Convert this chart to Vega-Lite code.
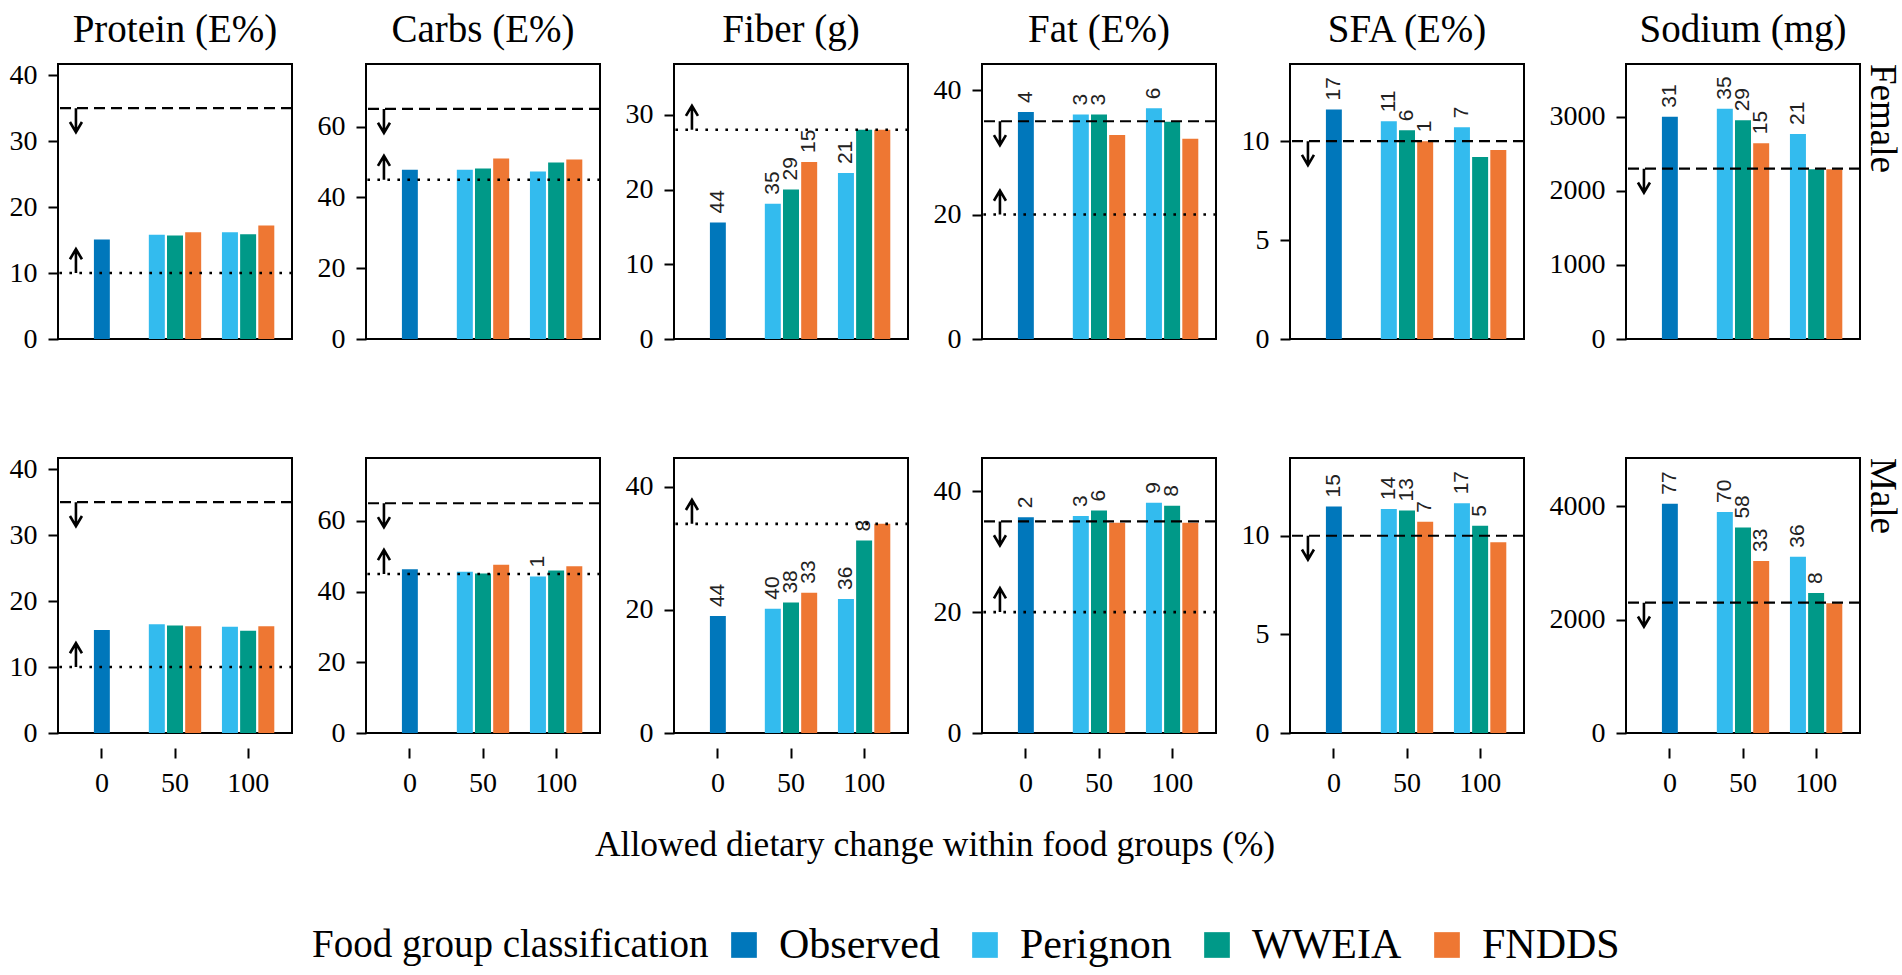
{
  "$schema": "https://vega.github.io/schema/vega-lite/v6.json",
  "background": "white",
  "padding": {"left": 8, "top": 11, "right": 4, "bottom": 6},
  "data": {"values": [
    {"sex":"Female","nutrient":"Protein (E%)","change":0,"cls":"Observed","value":15.1},
    {"sex":"Female","nutrient":"Protein (E%)","change":50,"cls":"Perignon","value":15.8},
    {"sex":"Female","nutrient":"Protein (E%)","change":50,"cls":"WWEIA","value":15.7},
    {"sex":"Female","nutrient":"Protein (E%)","change":50,"cls":"FNDDS","value":16.2},
    {"sex":"Female","nutrient":"Protein (E%)","change":100,"cls":"Perignon","value":16.2},
    {"sex":"Female","nutrient":"Protein (E%)","change":100,"cls":"WWEIA","value":15.9},
    {"sex":"Female","nutrient":"Protein (E%)","change":100,"cls":"FNDDS","value":17.2},
    {"sex":"Female","nutrient":"Carbs (E%)","change":0,"cls":"Observed","value":47.8},
    {"sex":"Female","nutrient":"Carbs (E%)","change":50,"cls":"Perignon","value":47.8},
    {"sex":"Female","nutrient":"Carbs (E%)","change":50,"cls":"WWEIA","value":48.2},
    {"sex":"Female","nutrient":"Carbs (E%)","change":50,"cls":"FNDDS","value":51.0},
    {"sex":"Female","nutrient":"Carbs (E%)","change":100,"cls":"Perignon","value":47.3},
    {"sex":"Female","nutrient":"Carbs (E%)","change":100,"cls":"WWEIA","value":49.9},
    {"sex":"Female","nutrient":"Carbs (E%)","change":100,"cls":"FNDDS","value":50.7},
    {"sex":"Female","nutrient":"Fiber (g)","change":0,"cls":"Observed","value":15.6,"label":"44"},
    {"sex":"Female","nutrient":"Fiber (g)","change":50,"cls":"Perignon","value":18.1,"label":"35"},
    {"sex":"Female","nutrient":"Fiber (g)","change":50,"cls":"WWEIA","value":20.0,"label":"29"},
    {"sex":"Female","nutrient":"Fiber (g)","change":50,"cls":"FNDDS","value":23.7,"label":"15"},
    {"sex":"Female","nutrient":"Fiber (g)","change":100,"cls":"Perignon","value":22.2,"label":"21"},
    {"sex":"Female","nutrient":"Fiber (g)","change":100,"cls":"WWEIA","value":28.0},
    {"sex":"Female","nutrient":"Fiber (g)","change":100,"cls":"FNDDS","value":28.0},
    {"sex":"Female","nutrient":"Fat (E%)","change":0,"cls":"Observed","value":36.5,"label":"4"},
    {"sex":"Female","nutrient":"Fat (E%)","change":50,"cls":"Perignon","value":36.1,"label":"3"},
    {"sex":"Female","nutrient":"Fat (E%)","change":50,"cls":"WWEIA","value":36.1,"label":"3"},
    {"sex":"Female","nutrient":"Fat (E%)","change":50,"cls":"FNDDS","value":32.8},
    {"sex":"Female","nutrient":"Fat (E%)","change":100,"cls":"Perignon","value":37.1,"label":"6"},
    {"sex":"Female","nutrient":"Fat (E%)","change":100,"cls":"WWEIA","value":34.9},
    {"sex":"Female","nutrient":"Fat (E%)","change":100,"cls":"FNDDS","value":32.2},
    {"sex":"Female","nutrient":"SFA (E%)","change":0,"cls":"Observed","value":11.6,"label":"17"},
    {"sex":"Female","nutrient":"SFA (E%)","change":50,"cls":"Perignon","value":11.0,"label":"11"},
    {"sex":"Female","nutrient":"SFA (E%)","change":50,"cls":"WWEIA","value":10.55,"label":"6"},
    {"sex":"Female","nutrient":"SFA (E%)","change":50,"cls":"FNDDS","value":10.0,"label":"1"},
    {"sex":"Female","nutrient":"SFA (E%)","change":100,"cls":"Perignon","value":10.7,"label":"7"},
    {"sex":"Female","nutrient":"SFA (E%)","change":100,"cls":"WWEIA","value":9.2},
    {"sex":"Female","nutrient":"SFA (E%)","change":100,"cls":"FNDDS","value":9.55},
    {"sex":"Female","nutrient":"Sodium (mg)","change":0,"cls":"Observed","value":3003,"label":"31"},
    {"sex":"Female","nutrient":"Sodium (mg)","change":50,"cls":"Perignon","value":3109,"label":"35"},
    {"sex":"Female","nutrient":"Sodium (mg)","change":50,"cls":"WWEIA","value":2953,"label":"29"},
    {"sex":"Female","nutrient":"Sodium (mg)","change":50,"cls":"FNDDS","value":2645,"label":"15"},
    {"sex":"Female","nutrient":"Sodium (mg)","change":100,"cls":"Perignon","value":2769,"label":"21"},
    {"sex":"Female","nutrient":"Sodium (mg)","change":100,"cls":"WWEIA","value":2293},
    {"sex":"Female","nutrient":"Sodium (mg)","change":100,"cls":"FNDDS","value":2293},
    {"sex":"Male","nutrient":"Protein (E%)","change":0,"cls":"Observed","value":15.6},
    {"sex":"Male","nutrient":"Protein (E%)","change":50,"cls":"Perignon","value":16.5},
    {"sex":"Male","nutrient":"Protein (E%)","change":50,"cls":"WWEIA","value":16.3},
    {"sex":"Male","nutrient":"Protein (E%)","change":50,"cls":"FNDDS","value":16.2},
    {"sex":"Male","nutrient":"Protein (E%)","change":100,"cls":"Perignon","value":16.1},
    {"sex":"Male","nutrient":"Protein (E%)","change":100,"cls":"WWEIA","value":15.5},
    {"sex":"Male","nutrient":"Protein (E%)","change":100,"cls":"FNDDS","value":16.2},
    {"sex":"Male","nutrient":"Carbs (E%)","change":0,"cls":"Observed","value":46.3},
    {"sex":"Male","nutrient":"Carbs (E%)","change":50,"cls":"Perignon","value":45.6},
    {"sex":"Male","nutrient":"Carbs (E%)","change":50,"cls":"WWEIA","value":45.1},
    {"sex":"Male","nutrient":"Carbs (E%)","change":50,"cls":"FNDDS","value":47.6},
    {"sex":"Male","nutrient":"Carbs (E%)","change":100,"cls":"Perignon","value":44.3,"label":"1"},
    {"sex":"Male","nutrient":"Carbs (E%)","change":100,"cls":"WWEIA","value":46.0},
    {"sex":"Male","nutrient":"Carbs (E%)","change":100,"cls":"FNDDS","value":47.2},
    {"sex":"Male","nutrient":"Fiber (g)","change":0,"cls":"Observed","value":19.0,"label":"44"},
    {"sex":"Male","nutrient":"Fiber (g)","change":50,"cls":"Perignon","value":20.2,"label":"40"},
    {"sex":"Male","nutrient":"Fiber (g)","change":50,"cls":"WWEIA","value":21.2,"label":"38"},
    {"sex":"Male","nutrient":"Fiber (g)","change":50,"cls":"FNDDS","value":22.8,"label":"33"},
    {"sex":"Male","nutrient":"Fiber (g)","change":100,"cls":"Perignon","value":21.8,"label":"36"},
    {"sex":"Male","nutrient":"Fiber (g)","change":100,"cls":"WWEIA","value":31.3,"label":"8"},
    {"sex":"Male","nutrient":"Fiber (g)","change":100,"cls":"FNDDS","value":34.0},
    {"sex":"Male","nutrient":"Fat (E%)","change":0,"cls":"Observed","value":35.7,"label":"2"},
    {"sex":"Male","nutrient":"Fat (E%)","change":50,"cls":"Perignon","value":35.9,"label":"3"},
    {"sex":"Male","nutrient":"Fat (E%)","change":50,"cls":"WWEIA","value":36.8,"label":"6"},
    {"sex":"Male","nutrient":"Fat (E%)","change":50,"cls":"FNDDS","value":34.8},
    {"sex":"Male","nutrient":"Fat (E%)","change":100,"cls":"Perignon","value":38.1,"label":"9"},
    {"sex":"Male","nutrient":"Fat (E%)","change":100,"cls":"WWEIA","value":37.6,"label":"8"},
    {"sex":"Male","nutrient":"Fat (E%)","change":100,"cls":"FNDDS","value":34.8},
    {"sex":"Male","nutrient":"SFA (E%)","change":0,"cls":"Observed","value":11.48,"label":"15"},
    {"sex":"Male","nutrient":"SFA (E%)","change":50,"cls":"Perignon","value":11.36,"label":"14"},
    {"sex":"Male","nutrient":"SFA (E%)","change":50,"cls":"WWEIA","value":11.28,"label":"13"},
    {"sex":"Male","nutrient":"SFA (E%)","change":50,"cls":"FNDDS","value":10.71,"label":"7"},
    {"sex":"Male","nutrient":"SFA (E%)","change":100,"cls":"Perignon","value":11.64,"label":"17"},
    {"sex":"Male","nutrient":"SFA (E%)","change":100,"cls":"WWEIA","value":10.5,"label":"5"},
    {"sex":"Male","nutrient":"SFA (E%)","change":100,"cls":"FNDDS","value":9.67},
    {"sex":"Male","nutrient":"Sodium (mg)","change":0,"cls":"Observed","value":4047,"label":"77"},
    {"sex":"Male","nutrient":"Sodium (mg)","change":50,"cls":"Perignon","value":3903,"label":"70"},
    {"sex":"Male","nutrient":"Sodium (mg)","change":50,"cls":"WWEIA","value":3626,"label":"58"},
    {"sex":"Male","nutrient":"Sodium (mg)","change":50,"cls":"FNDDS","value":3038,"label":"33"},
    {"sex":"Male","nutrient":"Sodium (mg)","change":100,"cls":"Perignon","value":3113,"label":"36"},
    {"sex":"Male","nutrient":"Sodium (mg)","change":100,"cls":"WWEIA","value":2473,"label":"8"},
    {"sex":"Male","nutrient":"Sodium (mg)","change":100,"cls":"FNDDS","value":2289},
    {"sex":"Female","nutrient":"Protein (E%)","upper":35,"lower":10,"ymax":41.7},
    {"sex":"Female","nutrient":"Carbs (E%)","upper":65,"lower":45,"ymax":77.7},
    {"sex":"Female","nutrient":"Fiber (g)","lower":28,"ymax":36.8},
    {"sex":"Female","nutrient":"Fat (E%)","upper":35,"lower":20,"ymax":44.2},
    {"sex":"Female","nutrient":"SFA (E%)","upper":10,"ymax":13.9},
    {"sex":"Female","nutrient":"Sodium (mg)","upper":2300,"ymax":3714},
    {"sex":"Male","nutrient":"Protein (E%)","upper":35,"lower":10,"ymax":41.7},
    {"sex":"Male","nutrient":"Carbs (E%)","upper":65,"lower":45,"ymax":77.8},
    {"sex":"Male","nutrient":"Fiber (g)","lower":34,"ymax":44.7},
    {"sex":"Male","nutrient":"Fat (E%)","upper":35,"lower":20,"ymax":45.5},
    {"sex":"Male","nutrient":"SFA (E%)","upper":10,"ymax":13.94},
    {"sex":"Male","nutrient":"Sodium (mg)","upper":2300,"ymax":4854}
  ]},
  "facet": {
    "row": {"field": "sex", "type": "nominal", "sort": ["Female", "Male"],
      "header": {"title": null, "labelOrient": "right", "labelAngle": 90, "labelAnchor": "start", "labelFont": "Liberation Serif", "labelFontSize": 37, "labelPadding": 0, "labelColor": "black"}},
    "column": {"field": "nutrient", "type": "nominal",
      "sort": ["Protein (E%)", "Carbs (E%)", "Fiber (g)", "Fat (E%)", "SFA (E%)", "Sodium (mg)"],
      "title": "Allowed dietary change within food groups (%)",
      "header": {"labelOrient": "top", "titleOrient": "bottom", "labelFont": "Liberation Serif", "labelFontSize": 39, "labelPadding": 10, "labelColor": "black",
        "titleFont": "Liberation Serif", "titleFontSize": 35.5, "titleFontWeight": "normal", "titlePadding": 21, "titleColor": "black"}}
  },
  "align": "each",
  "spacing": {"row": 100, "column": 21},
  "resolve": {"scale": {"y": "independent"}},
  "spec": {
    "width": 234,
    "height": 275,
    "layer": [
      {
        "transform": [{"filter": "datum.cls === 'Observed'"}],
        "mark": {"type": "bar", "width": {"band": 0.242}},
        "encoding": {
          "x": {"field": "change", "type": "ordinal", "scale": {"domain": [0, 50, 100], "paddingInner": 0.1, "paddingOuter": 0.15}, "axis": {"title": null, "labelAngle": 0}},
          "y": {"field": "value", "type": "quantitative", "scale": {"nice": false, "zero": true}, "axis": {"title": null, "format": "d"}},
          "color": {"field": "cls", "type": "nominal", "scale": {"domain": ["Observed", "Perignon", "WWEIA", "FNDDS"], "range": ["#0077BB", "#33BBEE", "#009988", "#EE7733"]},
            "legend": {"title": "Food group classification", "orient": "none", "legendX": 254, "legendY": 860, "direction": "horizontal", "titleOrient": "left"}}
        }
      },
      {
        "transform": [{"filter": "isValid(datum.cls) && datum.cls !== 'Observed'"}],
        "mark": {"type": "bar"},
        "encoding": {
          "x": {"field": "change", "type": "ordinal"},
          "xOffset": {"field": "cls", "type": "nominal", "scale": {"domain": ["Perignon", "WWEIA", "FNDDS"], "paddingInner": 0.12, "paddingOuter": 0.37}},
          "y": {"field": "value", "type": "quantitative"},
          "color": {"field": "cls", "type": "nominal"}
        }
      },
      {
        "transform": [{"filter": "datum.cls === 'Observed' && isValid(datum.label)"}],
        "mark": {"type": "text", "angle": 270, "align": "left", "baseline": "middle", "dx": 9, "font": "Liberation Sans", "fontSize": 21, "color": "#222222"},
        "encoding": {
          "x": {"field": "change", "type": "ordinal"},
          "y": {"field": "value", "type": "quantitative"},
          "text": {"field": "label"}
        }
      },
      {
        "transform": [{"filter": "isValid(datum.cls) && datum.cls !== 'Observed' && isValid(datum.label)"}],
        "mark": {"type": "text", "angle": 270, "align": "left", "baseline": "middle", "dx": 9, "font": "Liberation Sans", "fontSize": 21, "color": "#222222"},
        "encoding": {
          "x": {"field": "change", "type": "ordinal"},
          "xOffset": {"field": "cls", "type": "nominal"},
          "y": {"field": "value", "type": "quantitative"},
          "text": {"field": "label"}
        }
      },
      {
        "transform": [{"filter": "isValid(datum.upper)"}],
        "mark": {"type": "rule", "color": "black", "strokeWidth": 2.2, "strokeDash": [11, 6]},
        "encoding": {"y": {"field": "upper", "type": "quantitative"}}
      },
      {
        "transform": [{"filter": "isValid(datum.lower)"}],
        "mark": {"type": "rule", "color": "black", "strokeWidth": 2.6, "strokeDash": [2.6, 7.4]},
        "encoding": {"y": {"field": "lower", "type": "quantitative"}}
      },
      {
        "transform": [{"filter": "isValid(datum.upper)"}],
        "mark": {"type": "point", "shape": "M0,0L0,2M-0.5,1.15L0,2L0.5,1.15", "size": 576, "filled": false, "color": "black", "strokeWidth": 2.6, "opacity": 1},
        "encoding": {
          "x": {"datum": 0, "type": "ordinal", "bandPosition": 0.106},
          "y": {"field": "upper", "type": "quantitative"}
        }
      },
      {
        "transform": [{"filter": "isValid(datum.lower)"}],
        "mark": {"type": "point", "shape": "M0,0L0,-2M-0.5,-1.15L0,-2L0.5,-1.15", "size": 576, "filled": false, "color": "black", "strokeWidth": 2.6, "opacity": 1},
        "encoding": {
          "x": {"datum": 0, "type": "ordinal", "bandPosition": 0.106},
          "y": {"field": "lower", "type": "quantitative"}
        }
      },
      {
        "transform": [{"filter": "isValid(datum.ymax)"}],
        "mark": {"type": "point", "opacity": 0},
        "encoding": {"y": {"field": "ymax", "type": "quantitative"}}
      }
    ]
  },
  "config": {
    "font": "Liberation Serif",
    "view": {"stroke": "black", "strokeWidth": 2},
    "axis": {"grid": false, "domain": false, "tickColor": "black", "tickWidth": 2, "tickSize": 10, "labelColor": "black", "labelFont": "Liberation Serif", "labelFontSize": 28, "labelPadding": 11},
    "axisY": {"tickCount": 3},
    "legend": {"labelFont": "Liberation Serif", "labelFontSize": 42, "labelColor": "black", "titleFont": "Liberation Serif", "titleFontSize": 39, "titleFontWeight": "normal", "titleColor": "black", "titleLimit": 600, "labelLimit": 300, "symbolType": "square", "symbolSize": 660, "symbolStrokeWidth": 0, "columnPadding": 24, "labelOffset": 14, "titlePadding": 14}
  }
}
